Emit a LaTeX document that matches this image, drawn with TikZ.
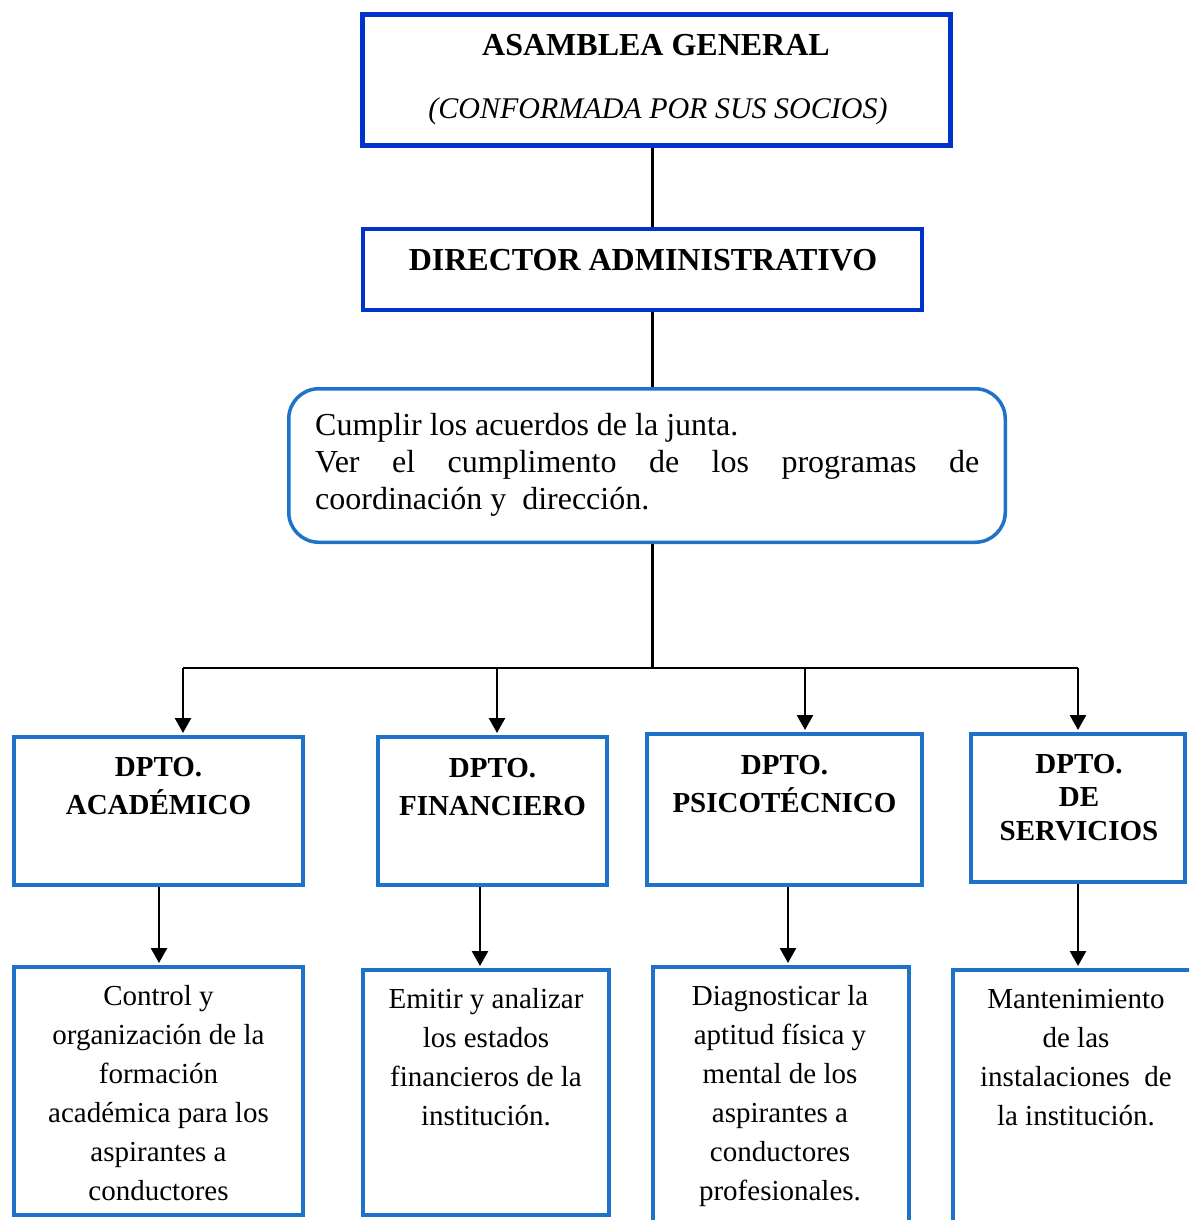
\documentclass[tikz,border=0pt]{standalone}
\usepackage{fontspec}
\setmainfont{Liberation Serif}
\usetikzlibrary{arrows.meta}
\definecolor{dblue}{RGB}{0,51,204}
\definecolor{mblue}{RGB}{31,114,201}
\begin{document}
\begin{tikzpicture}[x=1pt,y=-1pt,
  topbox/.style={draw=dblue, inner sep=0pt},
  deptbox/.style={draw=mblue, line width=4pt, inner sep=0pt},
  trunk/.style={line width=3pt},
  busline/.style={line width=2pt},
  arr/.style={line width=2.5pt, -{Triangle[width=16pt,length=15pt]}, shorten >=2pt},
  bigb/.style={font={\fontsize{32}{37}\selectfont\bfseries}, inner sep=0pt},
  scr/.style={font={\fontsize{30}{34}\selectfont\itshape}, inner sep=0pt},
  deptt/.style={font={\fontsize{29}{38}\selectfont\bfseries}, align=center, inner sep=0pt},
  bodyt/.style={font={\fontsize{29}{39}\selectfont}, align=center, inner sep=0pt}]
\useasboundingbox (0,0) rectangle (1189,1220);
\clip (0,0) rectangle (1189,1220);
\fill[white] (0,0) rectangle (1189,1220);

% top boxes
\node[topbox, line width=5pt, minimum width=588pt, minimum height=131pt] (asam) at (656.5,80) {};
\node[topbox, line width=4pt, minimum width=559pt, minimum height=81pt] (dir) at (642.5,269.5) {};
\node[draw=mblue, line width=3.5pt, rounded corners=30pt, inner sep=0pt, minimum width=716.5pt, minimum height=153.5pt] (cum) at (647,465.5) {};

\node[bigb, anchor=base] (asamT) at (656,56) {ASAMBLEA GENERAL};
\node[scr, anchor=base] (asamS) at (658,118) {(CONFORMADA POR SUS SOCIOS)};
\node[bigb, anchor=base] (dirT) at (643,270) {DIRECTOR ADMINISTRATIVO};
\node[font={\fontsize{32}{37}\selectfont}, align=left, inner sep=0pt, anchor=base west] (cumT) at (315,509)
  {Cumplir los acuerdos de la junta.\\ \makebox[664pt][s]{Ver el cumplimento de los programas de}\\ coordinación y\ \ dirección.};

% department boxes
\node[deptbox, minimum width=289pt, minimum height=148pt] (d1) at (158.5,811) {};
\node[deptbox, minimum width=229pt, minimum height=148pt] (d2) at (492.5,811) {};
\node[deptbox, minimum width=275pt, minimum height=151pt] (d3) at (784.5,809.5) {};
\node[deptbox, minimum width=214pt, minimum height=148pt] (d4) at (1078,808) {};

\node[deptt, anchor=base] (d1T) at (158.5,814) {DPTO.\\ACADÉMICO};
\node[deptt, anchor=base] (d2T) at (492.5,815) {DPTO.\\FINANCIERO};
\node[deptt, anchor=base] (d3T) at (784.5,812) {DPTO.\\PSICOTÉCNICO};
\node[deptt, font={\fontsize{29}{33.5}\selectfont\bfseries}, anchor=base] (d4T) at (1079,840) {DPTO.\\DE\\SERVICIOS};

% task boxes
\node[deptbox, minimum width=289pt, minimum height=248pt] (t1) at (158.5,1091) {};
\node[deptbox, minimum width=246pt, minimum height=245pt] (t2) at (486,1092.5) {};
\node[deptbox, minimum width=256pt, minimum height=281pt] (t3) at (781,1107.5) {};
\node[deptbox, minimum width=250pt, minimum height=278pt] (t4) at (1078,1109) {};

\node[bodyt, anchor=base] (t1T) at (158.5,1200) {Control y\\organización de la\\formación\\académica para los\\aspirantes a\\conductores};
\node[bodyt, anchor=base] (t2T) at (486,1125) {Emitir y analizar\\los estados\\financieros de la\\institución.};
\node[bodyt, anchor=base] (t3T) at (780,1200) {Diagnosticar la\\aptitud física y\\mental de los\\aspirantes a\\conductores\\profesionales.};
\node[bodyt, anchor=base] (t4T) at (1076,1125) {Mantenimiento\\de las\\instalaciones\ \ de\\la institución.};

% connectors
\coordinate (tr) at (652,0);
\draw[trunk] (asam.south -| tr) -- (dir.north -| tr);
\draw[trunk] (dir.south -| tr) -- (cum.north -| tr);
\coordinate (bus) at (652,668);
\draw[trunk] (cum.south -| tr) -- (bus);
\coordinate (b1) at (183,668);
\coordinate (b2) at (497,668);
\coordinate (b3) at (805,668);
\coordinate (b4) at (1078,668);
\draw[busline] (b1) -- (b4);
\draw[arr] (b1) -- (b1 |- d1.north);
\draw[arr] (b2) -- (b2 |- d2.north);
\draw[arr] (b3) -- (b3 |- d3.north);
\draw[arr] (b4) -- (b4 |- d4.north);

\coordinate (c1) at (159,0);
\coordinate (c2) at (480,0);
\coordinate (c3) at (788,0);
\coordinate (c4) at (1078,0);
\draw[arr] (d1.south -| c1) -- (t1.north -| c1);
\draw[arr] (d2.south -| c2) -- (t2.north -| c2);
\draw[arr] (d3.south -| c3) -- (t3.north -| c3);
\draw[arr] (d4.south -| c4) -- (t4.north -| c4);
\end{tikzpicture}
\end{document}
